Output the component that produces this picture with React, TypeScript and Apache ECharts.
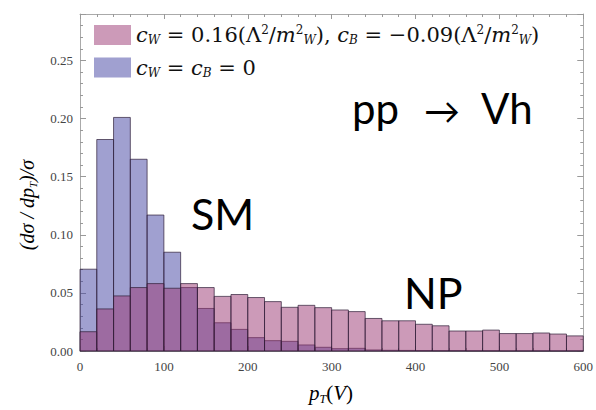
import React, { useEffect, useRef } from "react";
import * as echarts from "echarts";

const binEdges = [0, 20, 40, 60, 80, 100, 120, 140, 160, 180, 200, 220, 240, 260, 280, 300, 320, 340, 360, 380, 400, 420, 440, 460, 480, 500, 520, 540, 560, 580, 600];
const smValues = [0.0704, 0.182, 0.201, 0.165, 0.117, 0.085, 0.0546, 0.0366, 0.0243, 0.0186, 0.0115, 0.0089, 0.0083, 0.0052, 0.0032, 0.002, 0.0023, 0.0009, 0.0006, 0.0005, 0.0004, 0.0003, 0.0003, 0.0002, 0.0002, 0.0001, 0.0001, 0.0001, 0.0001, 0.0001];
const npValues = [0.0166, 0.0362, 0.0474, 0.0546, 0.058, 0.054, 0.058, 0.0546, 0.047, 0.0486, 0.046, 0.0425, 0.0376, 0.0393, 0.0373, 0.0353, 0.0339, 0.028, 0.026, 0.026, 0.023, 0.0217, 0.0172, 0.0172, 0.018, 0.015, 0.015, 0.0155, 0.0146, 0.013];
const xTicks = { min: 0, max: 600, major: 100, minor: 20 };
const yTicks = { min: 0, max: 0.29, major: 0.05, minor: 0.01 };

const BLUE = "rgba(65,65,161,0.5)";
const PINK = "rgba(153,53,113,0.5)";
const SERIF = "'Liberation Serif', 'DejaVu Serif', serif";
const LSERIF = "'DejaVu Serif', 'Liberation Serif', serif";
const HAND = "Lato, 'Open Sans', sans-serif";

const mathRich = {
  i: { fontFamily: LSERIF, fontStyle: "italic", fontSize: 21, lineHeight: 22, color: "#111" },
  n: { fontFamily: LSERIF, fontSize: 21, lineHeight: 22, color: "#111" },
  p: { fontFamily: LSERIF, fontSize: 12, lineHeight: 22, color: "#111", verticalAlign: "top" },
  s: { fontFamily: LSERIF, fontStyle: "italic", fontSize: 12, lineHeight: 22, color: "#111", verticalAlign: "bottom" },
};

export default function App() {
  const ref = useRef<HTMLDivElement>(null);
  useEffect(() => {
    if (!ref.current) return;
    const chart = echarts.init(ref.current, null, { renderer: "svg" });
    const mk = (vals: number[]) => vals.map((v, i) => [binEdges[i], binEdges[i + 1], v]);
    const render = (fill: string) => (params: any, api: any) => {
      const p0 = api.coord([api.value(0), api.value(2)]);
      const p1 = api.coord([api.value(1), 0]);
      return {
        type: "rect",
        shape: { x: p0[0], y: p0[1], width: p1[0] - p0[0], height: p1[1] - p0[1] },
        style: { fill, stroke: "rgba(45,30,55,0.7)", lineWidth: 1 },
      };
    };
    const tickLine = { color: "#999", width: 1 };
    const frameLine = { show: true, onZero: false, lineStyle: { color: "#aaa", width: 1 } };
    const xMajor = (pos: string, labels: boolean) => ({
      type: "value", position: pos, min: xTicks.min, max: xTicks.max, interval: xTicks.major,
      axisLine: frameLine,
      axisTick: { show: true, inside: true, length: 5, lineStyle: tickLine },
      axisLabel: { show: labels, fontFamily: SERIF, fontSize: 13, color: "#444", margin: 9 },
      splitLine: { show: false },
    });
    const xMinor = (pos: string) => ({
      type: "value", position: pos, min: xTicks.min, max: xTicks.max, interval: xTicks.minor,
      axisLine: { show: false, onZero: false },
      axisTick: { show: true, inside: true, length: 3, lineStyle: tickLine },
      axisLabel: { show: false }, splitLine: { show: false },
    });
    const yMajor = (pos: string, labels: boolean) => ({
      type: "value", position: pos, min: yTicks.min, max: yTicks.max, interval: yTicks.major,
      axisLine: frameLine,
      axisTick: { show: true, inside: true, length: 6, lineStyle: tickLine },
      axisLabel: {
        show: labels, fontFamily: SERIF, fontSize: 13, color: "#444", margin: 7,
        formatter: (v: number) => (Math.abs(v * 20 - Math.round(v * 20)) < 1e-6 ? v.toFixed(2) : ""),
      },
      splitLine: { show: false },
    });
    const yMinor = (pos: string) => ({
      type: "value", position: pos, min: yTicks.min, max: yTicks.max, interval: yTicks.minor,
      axisLine: { show: false, onZero: false },
      axisTick: { show: true, inside: true, length: 3, lineStyle: tickLine },
      axisLabel: { show: false }, splitLine: { show: false },
    });
    const hand = (text: string, x: number, y: number, size: number) => ({
      type: "text", x, y,
      style: { text, fontFamily: HAND, fontSize: size, fill: "#000", verticalAlign: "middle" },
    });
    chart.setOption({
      animation: false,
      grid: { left: 80, right: 6, top: 14, bottom: 59, containLabel: false },
      xAxis: [xMajor("bottom", true), xMinor("bottom"), xMajor("top", false), xMinor("top")],
      yAxis: [yMajor("left", true), yMinor("left"), yMajor("right", false), yMinor("right")],
      legend: {
        orient: "vertical", left: 89, top: 19, itemWidth: 37, itemHeight: 20, itemGap: 11,
        icon: "rect", data: ["NP", "SM"],
        formatter: (name: string) =>
          name === "NP"
            ? "{i|c}{s|W}{n| = 0.16(Λ}{p|2}{n|/}{i|m}{p|2}{s|W}{n|), }{i|c}{s|B}{n| = −0.09(Λ}{p|2}{n|/}{i|m}{p|2}{s|W}{n|)}"
            : "{i|c}{s|W}{n| = }{i|c}{s|B}{n| = 0}",
        textStyle: { rich: mathRich },
      },
      graphic: [
        {
          type: "text", x: 27, y: 205, rotation: Math.PI / 2,
          style: {
            text: "{n|(d}{i|σ}{n| / d}{i|p}{s|T}{n|)/}{i|σ}",
            rich: {
              i: { fontFamily: SERIF, fontStyle: "italic", fontSize: 20, lineHeight: 22, color: "#111" },
              n: { fontFamily: SERIF, fontStyle: "italic", fontSize: 20, lineHeight: 22, color: "#111" },
              s: { fontFamily: SERIF, fontStyle: "italic", fontSize: 11, lineHeight: 22, color: "#111", verticalAlign: "bottom" },
            },
            align: "center", verticalAlign: "middle",
          },
        },
        {
          type: "text", x: 331, y: 393,
          style: {
            text: "{i|p}{s|T}{n|(}{i|V}{n|)}",
            rich: {
              i: { fontFamily: SERIF, fontStyle: "italic", fontSize: 21, lineHeight: 24, color: "#111" },
              n: { fontFamily: SERIF, fontSize: 21, lineHeight: 24, color: "#111" },
              s: { fontFamily: SERIF, fontStyle: "italic", fontSize: 12, lineHeight: 24, color: "#111", verticalAlign: "bottom" },
            },
            align: "center", verticalAlign: "middle",
          },
        },
        hand("pp", 352, 108, 42),
        hand("→", 424, 110, 36),
        hand("Vh", 481, 108, 42),
        hand("SM", 191, 213, 43),
        hand("NP", 404, 292, 43),
      ],
      series: [
        {
          name: "SM", type: "custom", xAxisIndex: 0, yAxisIndex: 0,
          itemStyle: { color: BLUE }, encode: { x: [0, 1], y: 2 },
          data: mk(smValues), renderItem: render(BLUE),
        },
        {
          name: "NP", type: "custom", xAxisIndex: 0, yAxisIndex: 0,
          itemStyle: { color: PINK }, encode: { x: [0, 1], y: 2 },
          data: mk(npValues), renderItem: render(PINK),
        },
      ],
    });
    return () => chart.dispose();
  }, []);
  return <div ref={ref} style={{ width: 596, height: 410, position: "absolute", left: 0, top: 0 }} />;
}
